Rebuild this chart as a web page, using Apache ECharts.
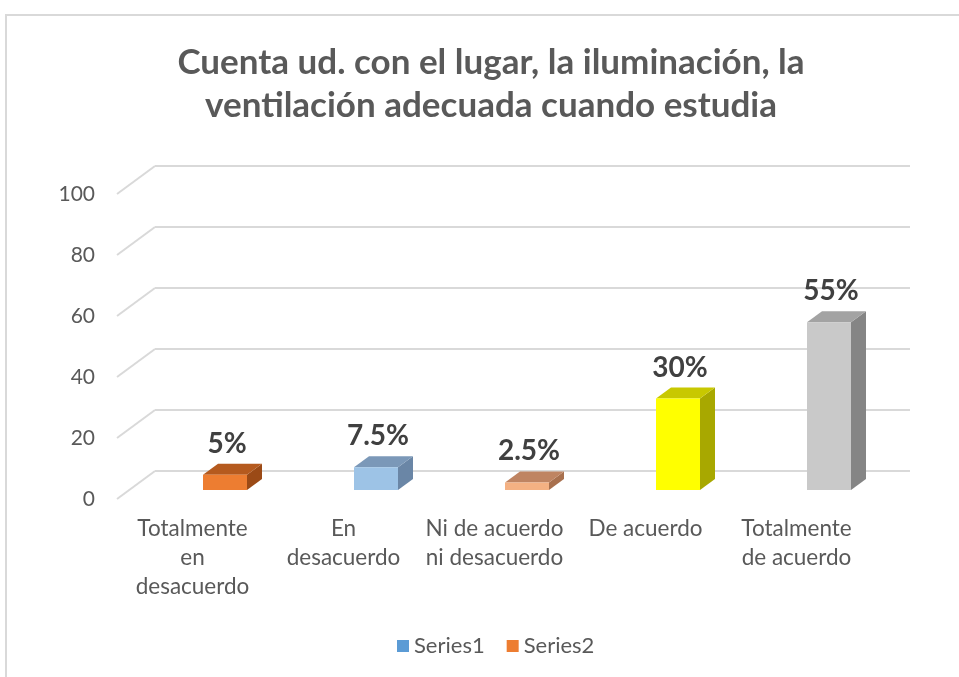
<!DOCTYPE html>
<html>
<head>
<meta charset="utf-8">
<title>Cuenta ud. con el lugar</title>
<script src="https://cdn.jsdelivr.net/npm/echarts@6/dist/echarts.min.js"></script>
<style>
  html, body { margin: 0; padding: 0; background: #fff; }
  #chart { width: 959px; height: 677px; }
</style>
</head>
<body>
<div id="chart"></div>
<script>
// datos del grafico
var categories = ['Totalmente\nen\ndesacuerdo', 'En\ndesacuerdo', 'Ni de acuerdo\nni desacuerdo', 'De acuerdo', 'Totalmente\nde acuerdo'];
var values = [5, 7.5, 2.5, 30, 55];
var yTicks = [0, 20, 40, 60, 80, 100];
var legendNames = ['Series1', 'Series2'];

// colores de cada barra: frente, tapa, lado
var barFront = ['#ED7D31', '#9DC3E6', '#F4B183', '#FFFF00', '#C9C9C9'];
var barTop = ['#B55A1E', '#7B98B8', '#BF8462', '#C8C800', '#A3A3A3'];
var barSide = ['#9B4A16', '#6A86A6', '#A8704E', '#A8A800', '#858585'];

var FONT = 'Lato, "Open Sans", sans-serif';
var DX = 38, DY = 28;      // profundidad del piso
var BW = 44, BDX = 15, BDY = 11;  // barra

var chart = echarts.init(document.getElementById('chart'));

function renderBar(params, api) {
  var i = api.value(0);
  var v = api.value(1);
  var base = api.coord([i, 0]);
  var top = api.coord([i, v]);
  var x0 = base[0] + 10.5;
  var yb = base[1] - 9;
  var yt = top[1] - 9;
  return {
    type: 'group',
    children: [
      { type: 'polygon', shape: { points: [[x0 + BW, yt], [x0 + BW + BDX, yt - BDY], [x0 + BW + BDX, yb - BDY], [x0 + BW, yb]] },
        style: { fill: barSide[i] } },
      { type: 'polygon', shape: { points: [[x0, yt], [x0 + BW, yt], [x0 + BW + BDX, yt - BDY], [x0 + BDX, yt - BDY]] },
        style: { fill: barTop[i] } },
      { type: 'rect', shape: { x: x0, y: yt, width: BW, height: yb - yt },
        style: { fill: barFront[i] } },
      { type: 'text', x: x0 + BW / 2 + 2, y: yt - 31,
        style: { text: v + '%', font: 'bold 28px ' + FONT, fill: '#404040', align: 'center', verticalAlign: 'middle' } }
    ]
  };
}

function renderDiag(params, api) {
  var y = api.coord([0, api.value(1)])[1];
  var x = params.coordSys.x;
  return {
    type: 'line',
    shape: { x1: x - DX, y1: y + DY, x2: x, y2: y },
    style: { stroke: '#d9d9d9', lineWidth: 2 }
  };
}

var option = {
  backgroundColor: '#fff',
  animation: false,
  title: {
    text: 'Cuenta ud. con el lugar, la iluminación, la\nventilación adecuada cuando estudia',
    left: 486,
    textAlign: 'center',
    top: 36,
    textStyle: { fontFamily: FONT, fontSize: 35, fontWeight: 'bold', color: '#595959', lineHeight: 43 }
  },
  legend: {
    data: legendNames,
    left: 392,
    top: 630,
    icon: 'rect',
    itemWidth: 12,
    itemHeight: 12,
    itemGap: 22,
    textStyle: { fontFamily: FONT, fontSize: 22, color: '#595959' }
  },
  graphic: [{
    type: 'rect',
    shape: { x: 6, y: 15, width: 1000, height: 700 },
    style: { fill: 'none', stroke: '#d9d9d9', lineWidth: 2 }
  }],
  grid: [
    { left: 155, top: 166, width: 755, height: 305 },
    { left: 117, top: 194, width: 755, height: 305 }
  ],
  xAxis: [
    { type: 'category', gridIndex: 0, data: categories, show: false },
    { type: 'category', gridIndex: 1, data: categories,
      axisLine: { show: false }, axisTick: { show: false },
      axisLabel: { interval: 0, margin: 15, fontFamily: FONT, fontSize: 22.5, color: '#595959', lineHeight: 29 } }
  ],
  yAxis: [
    { type: 'value', gridIndex: 0, min: 0, max: 100, interval: 20,
      axisLabel: { show: false }, axisLine: { show: false }, axisTick: { show: false },
      splitLine: { lineStyle: { color: '#d9d9d9', width: 2 } } },
    { type: 'value', gridIndex: 1, min: 0, max: 100, interval: 20,
      axisLine: { show: false }, axisTick: { show: false }, splitLine: { show: false },
      axisLabel: { margin: 22, fontFamily: FONT, fontSize: 21, color: '#595959' } }
  ],
  series: [
    { type: 'custom', name: 'diag', xAxisIndex: 0, yAxisIndex: 0, silent: true, z: 1,
      data: yTicks.map(function (t) { return [0, t]; }), renderItem: renderDiag },
    { type: 'custom', name: legendNames[0], xAxisIndex: 1, yAxisIndex: 1,
      itemStyle: { color: '#5B9BD5' },
      data: values.map(function (v, i) { return [i, v]; }),
      encode: { x: 0, y: 1 }, renderItem: renderBar },
    { type: 'custom', name: legendNames[1], xAxisIndex: 1, yAxisIndex: 1,
      itemStyle: { color: '#ED7D31' }, data: [], renderItem: renderBar }
  ]
};

chart.setOption(option);
</script>
</body>
</html>
